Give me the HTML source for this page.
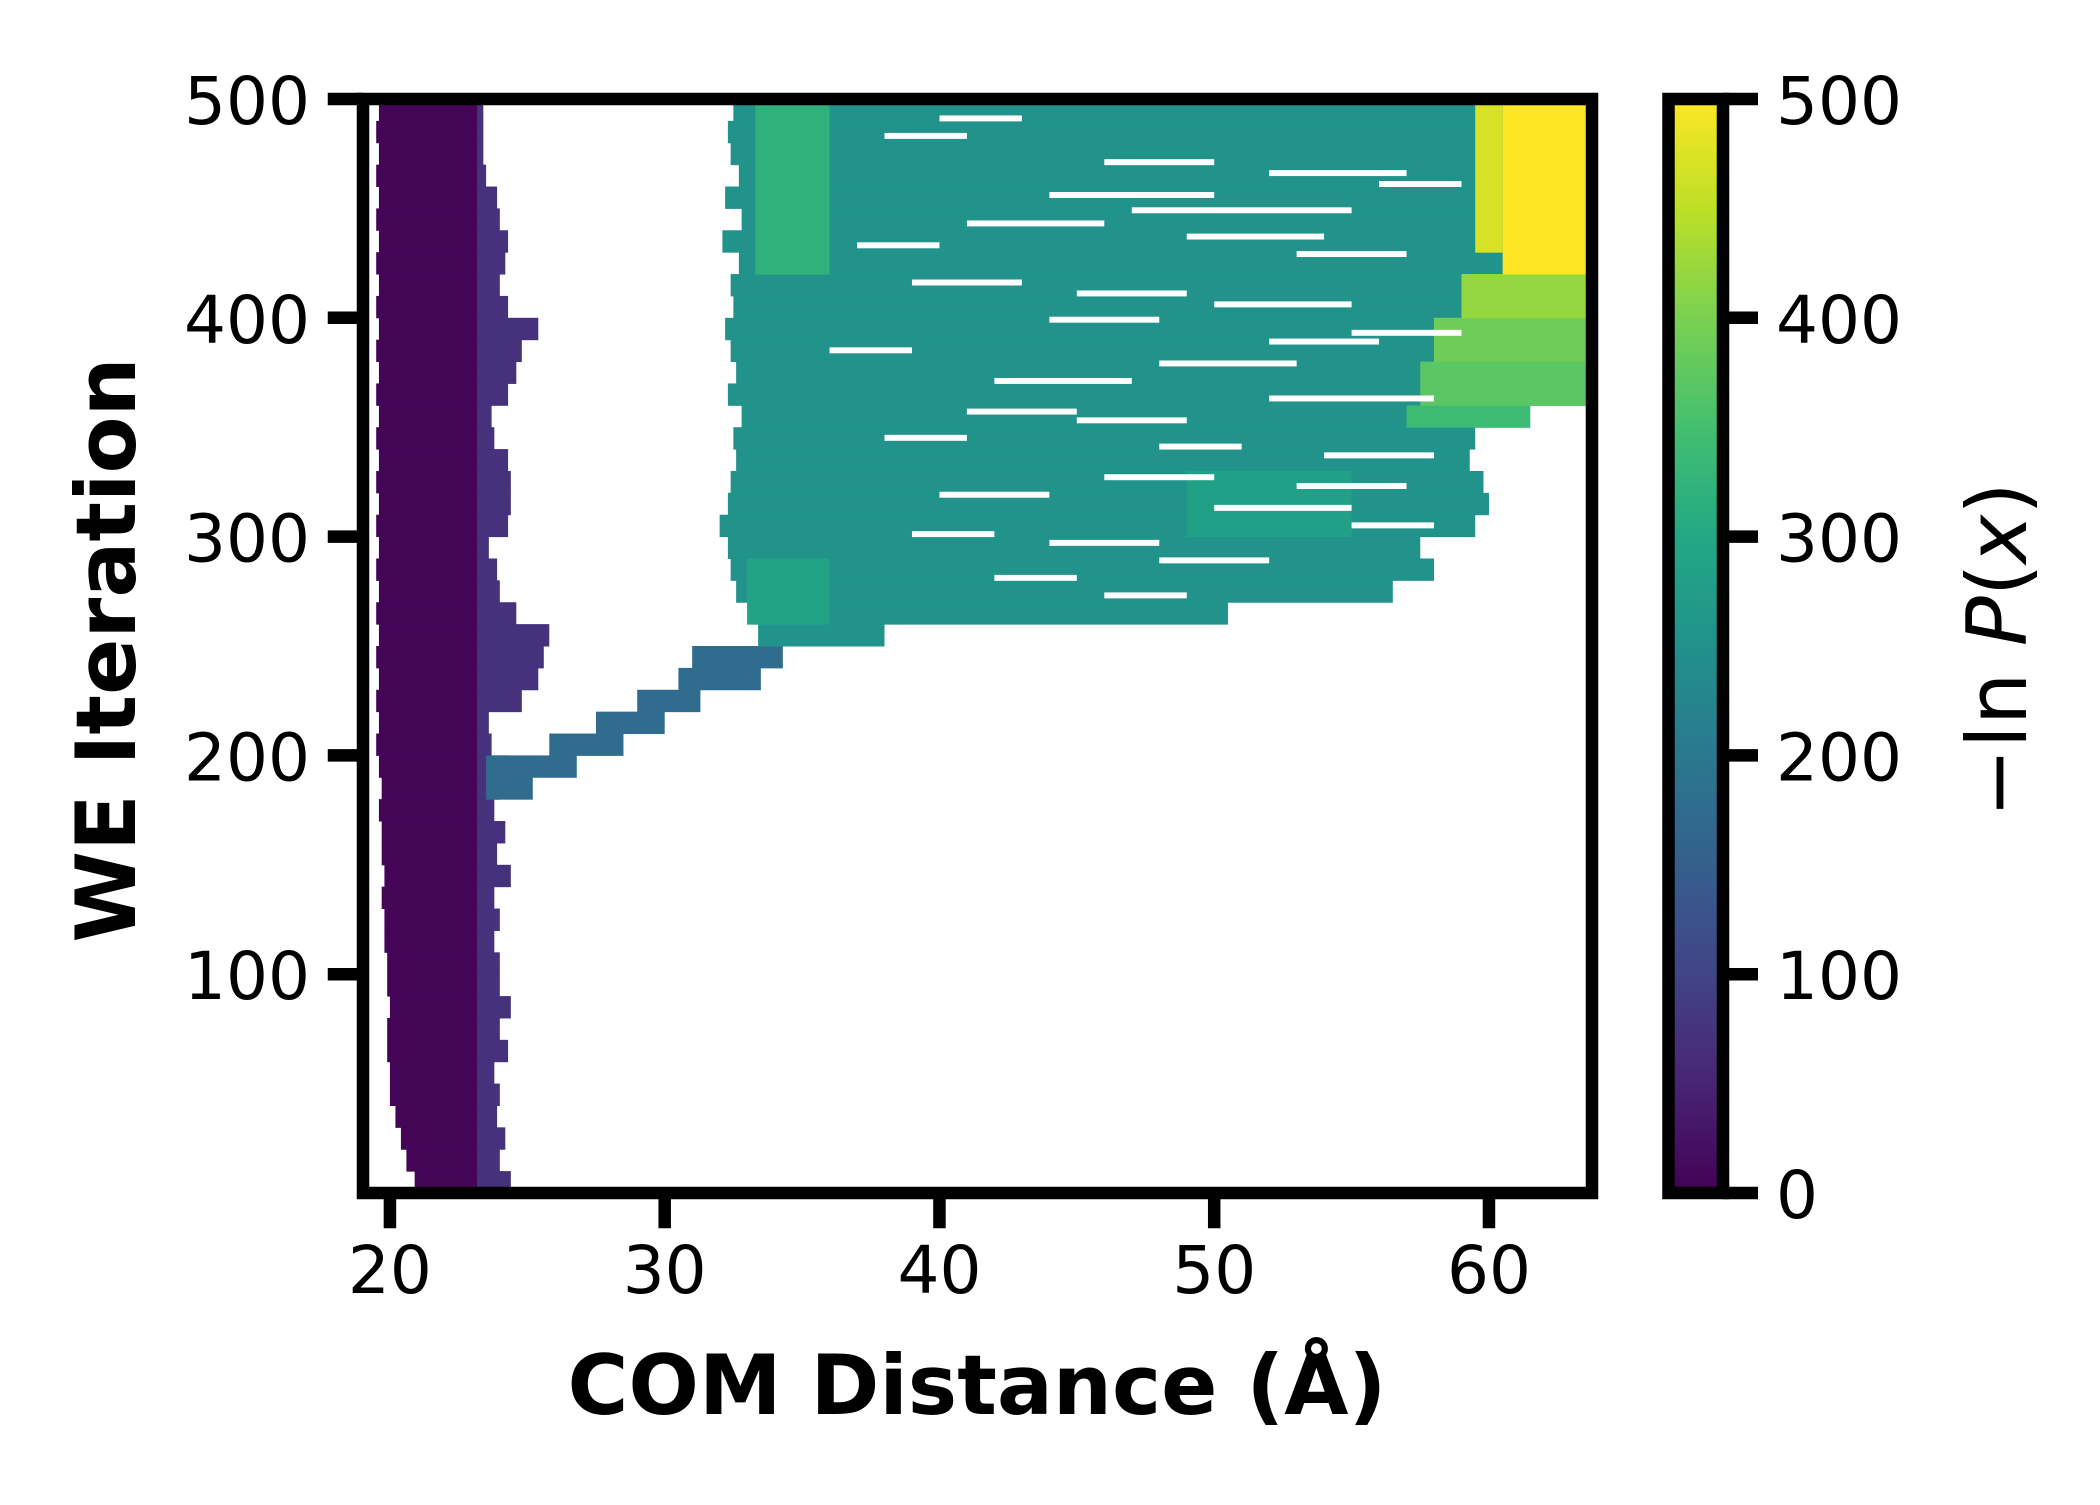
<!DOCTYPE html>
<html><head><meta charset="utf-8"><style>
html,body{margin:0;padding:0;background:#fff;}
svg text{font-family:"DejaVu Sans","Liberation Sans",sans-serif;}
</style></head><body>
<svg id="chart" width="2100" height="1500" viewBox="0 0 2100 1500" xmlns="http://www.w3.org/2000/svg">
<defs>
<linearGradient id="vir" x1="0" y1="1" x2="0" y2="0">
<stop offset="0" stop-color="#440154"/><stop offset="0.1" stop-color="#482475"/><stop offset="0.2" stop-color="#414487"/><stop offset="0.3" stop-color="#355f8d"/><stop offset="0.4" stop-color="#2a788e"/><stop offset="0.5" stop-color="#21918c"/><stop offset="0.6" stop-color="#22a884"/><stop offset="0.7" stop-color="#44bf70"/><stop offset="0.8" stop-color="#7ad151"/><stop offset="0.9" stop-color="#bddf26"/><stop offset="1" stop-color="#fde725"/>
</linearGradient>
<clipPath id="pc"><rect x="363" y="99" width="1229" height="1094"/></clipPath>
</defs>
<g id="cells" clip-path="url(#pc)"></g>
<g id="axes"></g>
</svg>
<script>
const iterRows = [0,10,20,30,40,50,60,70,80,90,100,110,120,130,140,150,160,170,180,190,200,210,220,230,240,250,260,270,280,290,300,310,320,330,340,350,360,370,380,390,400,410,420,430,440,450,460,470,480,490];
const basinLeft = [20.9,20.6,20.4,20.2,20.0,20.0,19.9,19.9,20.0,19.9,19.9,19.8,19.8,19.7,19.8,19.7,19.7,19.6,19.7,19.6,19.5,19.6,19.5,19.6,19.5,19.6,19.5,19.6,19.5,19.6,19.5,19.6,19.5,19.6,19.5,19.6,19.5,19.6,19.5,19.6,19.5,19.6,19.5,19.6,19.5,19.6,19.5,19.6,19.5,19.6];
const basinCore = 23.2;
const basinRight = [24.4,24.0,24.2,23.9,24.0,23.8,24.3,24.0,24.4,24.0,24.0,23.8,24.0,23.8,24.4,23.9,24.2,23.8,24.0,24.3,23.7,23.6,24.8,25.4,25.6,25.8,24.6,24.0,23.9,23.6,24.3,24.4,24.4,24.3,23.8,23.7,24.3,24.6,24.8,25.4,24.3,24.0,24.2,24.3,24.0,23.9,23.5,23.4,23.4,23.4];
const bridgeIter = [180,190,200,210,220,230,240];
const bridgeLeft = [23.5,23.5,25.8,27.5,29.0,30.5,31.0];
const bridgeRight = [25.2,26.8,28.5,30.0,31.3,33.5,34.3];
const mainIter = [250,260,270,280,290,300,310,320,330,340,350,360,370,380,390,400,410,420,430,440,450,460,470,480,490];
const mainLeft = [33.4,33.2,32.6,32.4,32.3,32.0,32.3,32.4,32.6,32.5,32.8,32.3,32.6,32.4,32.2,32.5,32.4,32.7,32.1,32.8,32.2,32.7,32.4,32.3,32.5];
const mainRight = [38.0,50.5,56.5,58.0,57.5,59.5,60.0,59.8,59.3,59.5,61.5,63.8,63.8,63.8,63.8,63.8,63.8,63.8,63.8,63.8,63.8,63.8,63.8,63.8,63.8];
// overlay patches
const patchIterStart = [420,260,300,350,360,380,400,430,420];
const patchIterEnd   = [500,290,330,360,380,400,420,500,500];
const patchX0 = [33.3,33.0,49,57,57.5,58,59,59.5,60.5];
const patchX1 = [36.0,36.0,55,61.5,63.8,63.8,63.8,60.5,63.8];
const patchVal = [320,290,280,340,370,390,420,470,500];
// white gaps
const gapIter = [470,465,455,448,442,436,428,415,405,398,392,384,378,370,362,352,344,336,326,318,312,304,296,288,280,272,490,482,460,432,410,388,356,340,322,300];
const gapX0 = [46,52,44,47,41,49,53,39,50,44,55,36,48,42,52,45,38,54,46,40,50,55,44,48,42,46,40,38,56,37,45,52,41,48,53,39];
const gapX1 = [50,57,50,55,46,54,57,43,55,48,59,39,53,47,58,49,41,58,50,44,55,58,48,52,45,49,43,41,59,40,49,56,45,51,57,42];

const X0=363,X1=1592,Y0=1193,Y1=99, xmin=19.02,xmax=63.75,ymin=0,ymax=500;
const sx=v=>X0+(v-xmin)/(xmax-xmin)*(X1-X0);
const sy=v=>Y0-(v-ymin)/(ymax-ymin)*(Y0-Y1);
const vir=[[68,1,84],[72,36,117],[65,68,135],[53,95,141],[42,120,142],[33,145,140],[34,168,132],[68,191,112],[122,209,81],[189,223,38],[253,231,37]];
function col(v){let t=Math.max(0,Math.min(1,v/500))*10;let i=Math.min(9,Math.floor(t)),f=t-i;const a=vir[i],b=vir[i+1];return 'rgb('+a.map((c,k)=>Math.round(c+(b[k]-c)*f)).join(',')+')';}
const NS='http://www.w3.org/2000/svg';
const cells=document.getElementById('cells'), axes=document.getElementById('axes');
function rect(g,x0,x1,i0,i1,fill,name){const r=document.createElementNS(NS,'rect');
r.setAttribute('x',sx(x0));r.setAttribute('width',Math.max(0,sx(x1)-sx(x0)));
r.setAttribute('y',sy(i1));r.setAttribute('height',sy(i0)-sy(i1)+0.5);r.setAttribute('fill',fill);


g.appendChild(r);}
iterRows.forEach((it,k)=>{rect(cells,basinLeft[k],basinCore,it,it+10,col(5),'basin-cell');
rect(cells,basinCore,basinRight[k],it,it+10,col(70),'basin-edge-cell');});
bridgeIter.forEach((it,k)=>rect(cells,bridgeLeft[k],bridgeRight[k],it,it+10,col(175),'bridge-cell'));
mainIter.forEach((it,k)=>rect(cells,mainLeft[k],mainRight[k],it,it+10,col(255),'main-region-cell'));
patchVal.forEach((v,k)=>rect(cells,patchX0[k],patchX1[k],patchIterStart[k],patchIterEnd[k],col(v),'patch-cell'));
gapIter.forEach((it,k)=>rect(cells,gapX0[k],gapX1[k],it,it+2.5,'#fff','gap-cell'));

function el(tag,attrs,parent,text){const e=document.createElementNS(NS,tag);for(const a in attrs)e.setAttribute(a,attrs[a]);if(text!==undefined)e.textContent=text;(parent||axes).appendChild(e);return e;}
const xTicks=[20,30,40,50,60], yTicks=[100,200,300,400,500], cTicks=[0,100,200,300,400,500];
const SW=12.5, TL=29;
let f=el('rect',{x:X0,y:Y1,width:X1-X0,height:Y0-Y1,fill:'none',stroke:'#000','stroke-width':SW});


xTicks.forEach(t=>{let l=el('line',{x1:sx(t),x2:sx(t),y1:Y0,y2:Y0+SW/2+TL,stroke:'#000','stroke-width':SW});


let tx=el('text',{x:sx(t),y:1293,'text-anchor':'middle','font-size':66},axes,String(t));

});
yTicks.forEach(t=>{let l=el('line',{x1:X0-SW/2-TL,x2:X0,y1:sy(t),y2:sy(t),stroke:'#000','stroke-width':SW});


let tx=el('text',{x:310,y:sy(t)+25,'text-anchor':'end','font-size':66},axes,String(t));

});
let xl=el('text',{x:977,y:1414,'text-anchor':'middle','font-size':83,'font-weight':'bold'},axes,'COM Distance (Å)');


let yl=el('text',{x:0,y:0,'text-anchor':'middle','font-size':83,'font-weight':'bold',transform:'translate(135,650) rotate(-90)'},axes,'WE Iteration');


// colorbar
const CX0=1668.5,CX1=1723,cy=v=>Y0-v/500*(Y0-Y1);
let cb=el('rect',{x:CX0,y:Y1,width:CX1-CX0,height:Y0-Y1,fill:'url(#vir)',stroke:'#000','stroke-width':SW});


cTicks.forEach(t=>{let l=el('line',{x1:CX1,x2:1758,y1:cy(t),y2:cy(t),stroke:'#000','stroke-width':SW});


let tx=el('text',{x:1776,y:cy(t)+25,'font-size':66},axes,String(t));

});
let cl=el('text',{x:0,y:0,'text-anchor':'middle','font-size':83,transform:'translate(2026,650) rotate(-90)'},axes);


cl.innerHTML='−ln <tspan font-style="italic">P</tspan>(<tspan font-style="italic">x</tspan>)';
</script>
</body></html>
